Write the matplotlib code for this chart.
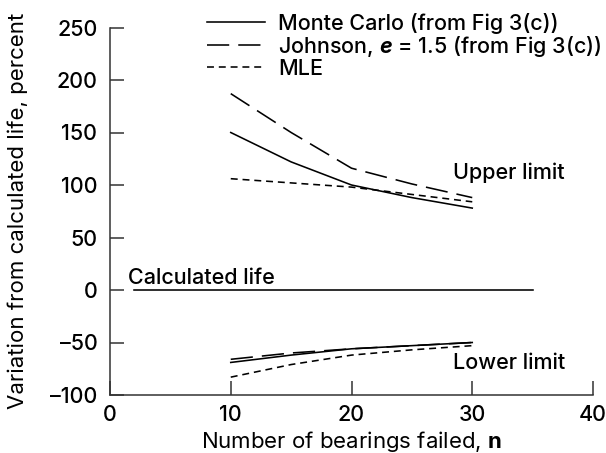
import matplotlib
matplotlib.use("Agg")
import matplotlib.pyplot as plt
from matplotlib.lines import Line2D

font = 'Inter'
plt.rcParams['font.family'] = [font, 'DejaVu Sans']
plt.rcParams['font.weight'] = 'medium'
plt.rcParams['mathtext.fontset'] = 'custom'
plt.rcParams['mathtext.rm'] = font + ':medium'
plt.rcParams['mathtext.bf'] = font + ':bold'
plt.rcParams['mathtext.it'] = font + ':italic'
plt.rcParams['mathtext.bfit'] = font + ':bold:italic'
plt.rcParams['lines.scale_dashes'] = False

# data
n_pts = [10, 15, 20, 25, 30]
mc_upper = [150, 122, 100, 88, 78]
johnson_upper = [187, 150, 116, 101, 88]
mle_upper = [106, 102, 98, 91, 84]
mc_lower = [-69, -62, -56, -53, -50]
johnson_lower = [-66, -60, -56, -53, -50]
mle_lower = [-83, -71, -62, -57, -53]
calc_x = [2, 35]
calc_y = [0, 0]

x_ticks = [0, 10, 20, 30, 40]
y_ticks = [-100, -50, 0, 50, 100, 150, 200, 250]

solid = '-'
long_dash = (0, (16, 6.5))
short_dash = (0, (5, 3.5))
lw = 1.15
fs = 15.5

fig = plt.figure(figsize=(6.06, 4.53), dpi=100)
ax = fig.add_axes([110 / 606, 58 / 453, 483 / 606, 367.5 / 453])

ax.plot(n_pts, mc_upper, color='black', lw=lw, linestyle=solid)
ax.plot(n_pts, johnson_upper, color='black', lw=lw, linestyle=long_dash)
ax.plot(n_pts, mle_upper, color='black', lw=lw, linestyle=short_dash)
ax.plot(n_pts, mc_lower, color='black', lw=lw, linestyle=solid)
ax.plot(n_pts, johnson_lower, color='black', lw=lw, linestyle=long_dash)
ax.plot(n_pts, mle_lower, color='black', lw=lw, linestyle=short_dash)
ax.plot(calc_x, calc_y, color='black', lw=lw)

ax.set_xlim(0, 40)
ax.set_ylim(-100, 250)
ax.set_xticks(x_ticks)
ax.set_yticks(y_ticks)
ax.set_yticklabels([str(v).replace('-', '\u2013') for v in y_ticks])
ax.tick_params(direction='in', length=10, width=1.1, labelsize=fs, color='#333333')
ax.tick_params(axis='y', pad=9)
ax.tick_params(axis='x', pad=7)

for side in ['top', 'right']:
    ax.spines[side].set_visible(False)
for side in ['left', 'bottom']:
    ax.spines[side].set_linewidth(1.1)
    ax.spines[side].set_color('#333333')

ax.set_xlabel(r'Number of bearings failed, $\mathbf{n}$', fontsize=16)
ax.set_ylabel('Variation from calculated life, percent', fontsize=16)
ax.xaxis.set_label_coords(0.5, -0.093)
ax.yaxis.set_label_coords(-0.17, 0.5)

ax.text(1.5, 11, 'Calculated life', fontsize=fs, va='center')
ax.text(28.4, 112, 'Upper limit', fontsize=fs, va='center')
ax.text(28.4, -69.5, 'Lower limit', fontsize=fs, va='center')

handles = [
    Line2D([], [], color='black', lw=lw, linestyle=solid),
    Line2D([], [], color='black', lw=lw, linestyle=long_dash),
    Line2D([], [], color='black', lw=lw, linestyle=short_dash),
]
labels = ['Monte Carlo (from Fig 3(c))',
          r'Johnson, $\mathbfit{e}$ = 1.5 (from Fig 3(c))',
          'MLE']
fig.legend(handles, labels, loc='upper left', bbox_to_anchor=(207 / 606, 1 - 13 / 453),
           frameon=False, fontsize=fs, handlelength=2.7, handletextpad=0.6,
           labelspacing=0.0, borderpad=0, borderaxespad=0)

fig.savefig('out.png', dpi=100)
